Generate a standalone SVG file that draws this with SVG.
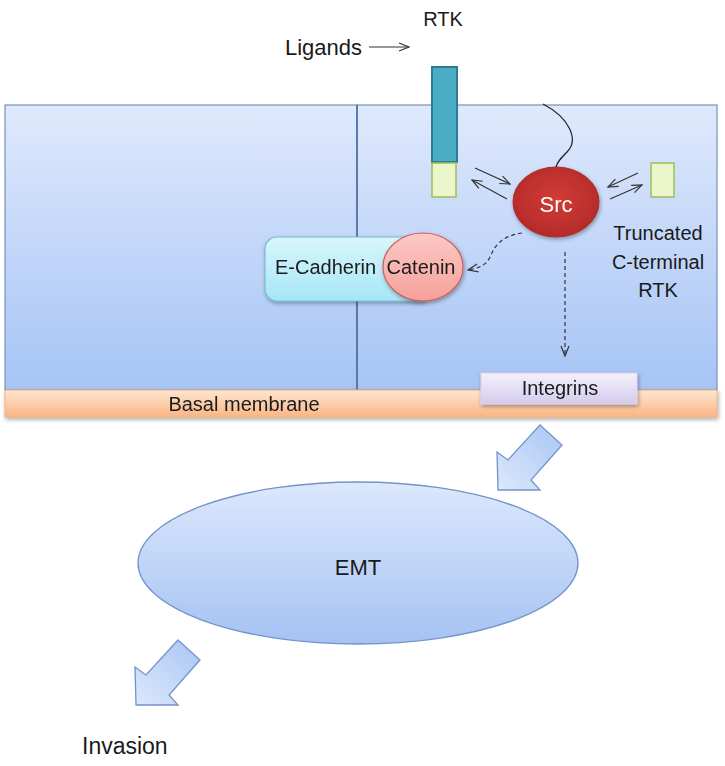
<svg xmlns="http://www.w3.org/2000/svg" width="725" height="766" viewBox="0 0 725 766">
<defs>
<linearGradient id="gCell" x1="0" y1="0" x2="0" y2="1"><stop offset="0" stop-color="#dfe9fc"/><stop offset="1" stop-color="#a6c4f5"/></linearGradient>
<linearGradient id="gMem" x1="0" y1="0" x2="0" y2="1"><stop offset="0" stop-color="#fee6d2"/><stop offset="1" stop-color="#f9b684"/></linearGradient>
<linearGradient id="gInt" x1="0" y1="0" x2="0" y2="1"><stop offset="0" stop-color="#f4f1fb"/><stop offset="1" stop-color="#d3cbee"/></linearGradient>
<linearGradient id="gCad" x1="0" y1="0" x2="0" y2="1"><stop offset="0" stop-color="#d9f6fc"/><stop offset="1" stop-color="#a6e6f7"/></linearGradient>
<linearGradient id="gCat" x1="0" y1="0" x2="0" y2="1"><stop offset="0" stop-color="#fcc9c6"/><stop offset="1" stop-color="#f6a09b"/></linearGradient>
<radialGradient id="gSrc" cx="0.5" cy="0.45" r="0.6"><stop offset="0" stop-color="#d23c35"/><stop offset="1" stop-color="#b3292a"/></radialGradient>
<linearGradient id="gEmt" x1="0" y1="0" x2="0" y2="1"><stop offset="0" stop-color="#dce8fc"/><stop offset="1" stop-color="#a5c2f3"/></linearGradient>
<linearGradient id="gArr" x1="1" y1="0" x2="0" y2="1"><stop offset="0" stop-color="#a9c6f4"/><stop offset="1" stop-color="#dce8fc"/></linearGradient>
<filter id="sh" x="-10%" y="-20%" width="120%" height="160%"><feGaussianBlur in="SourceAlpha" stdDeviation="2"/><feOffset dx="1" dy="2"/><feComponentTransfer><feFuncA type="linear" slope="0.35"/></feComponentTransfer><feMerge><feMergeNode/><feMergeNode in="SourceGraphic"/></feMerge></filter>
<marker id="open" viewBox="0 0 12 10" refX="11" refY="5" markerWidth="12" markerHeight="10" markerUnits="userSpaceOnUse" orient="auto"><path d="M1,1 L11,5 L1,9" fill="none" stroke="#333" stroke-width="1.2"/></marker>
<path id="bigArrow" d="M0,0 L22,20 L-9,55 L0,65 L-42,65 L-43,27 L-32,35 Z"/>
</defs>
<style>
text{font-family:"Liberation Sans",Arial,sans-serif;fill:#1a1a1a}
.conn{fill:none;stroke:#333;stroke-width:1.2;marker-end:url(#open)}
.dash{stroke-dasharray:4,3}
.bigarr{fill:url(#gArr);stroke:#7394c8;stroke-width:1.3}
</style>

<g id="cell-left"><rect x="5" y="105" width="352" height="285" fill="url(#gCell)" stroke="#7f99c2" stroke-width="1.3"/></g>
<g id="cell-right"><rect x="357" y="105" width="360" height="285" fill="url(#gCell)" stroke="#7f99c2" stroke-width="1.3"/><line x1="357" y1="105" x2="357" y2="390" stroke="#4a6a9c" stroke-width="1.5"/></g>

<g id="basal-membrane" filter="url(#sh)"><rect x="5" y="390" width="712" height="27" fill="url(#gMem)" stroke="#f1b27f" stroke-width="1"/><text x="244" y="411" font-size="20" text-anchor="middle">Basal membrane</text></g>

<g id="integrins" filter="url(#sh)"><rect x="481" y="373" width="156" height="31" fill="url(#gInt)" stroke="#d9d2ee" stroke-width="1"/><text x="560" y="395" font-size="20" text-anchor="middle">Integrins</text></g>

<g id="ligands"><text x="285" y="55" font-size="22">Ligands</text></g>
<g id="rtk-label"><text x="443" y="26" font-size="20" text-anchor="middle">RTK</text></g>
<g id="rtk"><rect x="432" y="67" width="25" height="95" fill="#4bacc6" stroke="#2f7c92" stroke-width="2"/><rect x="432" y="163" width="24" height="34" fill="#ecf6cb" stroke="#9dbd5e" stroke-width="1.5"/></g>
<g id="truncated-rtk"><rect x="651" y="163" width="23" height="34" fill="#ecf6cb" stroke="#9dbd5e" stroke-width="1.5"/>
<text x="658" y="240" font-size="20" text-anchor="middle">Truncated</text><text x="658" y="269" font-size="20" text-anchor="middle">C-terminal</text><text x="658" y="297" font-size="20" text-anchor="middle">RTK</text></g>

<g id="e-cadherin" filter="url(#sh)"><rect x="265" y="237" width="165" height="64" rx="12" fill="url(#gCad)" stroke="#74bdd6" stroke-width="1.2"/><text x="275" y="274" font-size="20">E-Cadherin</text></g>
<g id="catenin" filter="url(#sh)"><ellipse cx="423" cy="267" rx="40" ry="34" fill="url(#gCat)" stroke="#c9605c" stroke-width="1.2"/><text x="421" y="274" font-size="20" text-anchor="middle">Catenin</text></g>

<g id="src" filter="url(#sh)"><ellipse cx="556" cy="202" rx="43" ry="35" fill="url(#gSrc)" stroke="#a62c2c" stroke-width="1"/><text x="556" y="212" font-size="22" text-anchor="middle" style="fill:#fff">Src</text></g>

<g id="emt"><ellipse cx="358" cy="563" rx="220" ry="81" fill="url(#gEmt)" stroke="#7394c8" stroke-width="1.3"/><text x="358" y="575" font-size="22" text-anchor="middle">EMT</text></g>
<g id="invasion"><text x="82" y="754" font-size="23">Invasion</text></g>

<g id="connectors">
<line class="conn" x1="369" y1="47" x2="409" y2="47"/>
<path d="M543,104 C570,118 579,140 567,152 C561,158 557,162 556,167" fill="none" stroke="#222" stroke-width="1.2"/>
<line class="conn" x1="475" y1="168" x2="510" y2="184"/>
<line class="conn" x1="507" y1="199" x2="472" y2="180"/>
<line class="conn" x1="638" y1="173" x2="608" y2="187"/>
<line class="conn" x1="610" y1="199" x2="642" y2="185"/>
<path class="conn dash" d="M522,233 C502,236 495,245 490,257 C486,266 478,268 468,270"/>
<line class="conn dash" x1="565" y1="252" x2="565" y2="356"/>
<use href="#bigArrow" class="bigarr" x="540" y="425"/>
<use href="#bigArrow" class="bigarr" x="178" y="640"/>
</g>
</svg>
